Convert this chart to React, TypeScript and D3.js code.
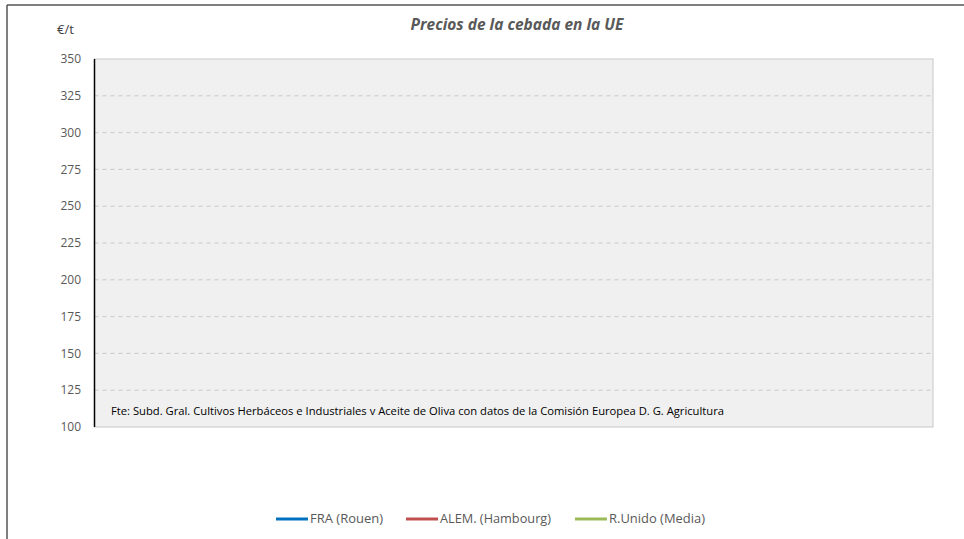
import React, { useEffect, useRef } from 'react';
import * as d3 from 'd3';

const title = 'Precios de la cebada en la UE';
const unitLabel = '€/t';
const sourceNote = 'Fte: Subd. Gral. Cultivos Herbáceos e Industriales v Aceite de Oliva con datos de la Comisión Europea D. G. Agricultura';
const yTicks = [100, 125, 150, 175, 200, 225, 250, 275, 300, 325, 350];
const seriesNames = ['FRA (Rouen)', 'ALEM. (Hambourg)', 'R.Unido (Media)'];
const seriesColors = ['#0070c0', '#c0504d', '#9bbb59'];
// no prices published for the period shown: the chart is empty
const weeks: string[] = [];
const fraValues: number[] = [];
const alemValues: number[] = [];
const ukValues: number[] = [];

const App = () => {
  const ref = useRef<SVGSVGElement>(null);

  useEffect(() => {
    const svg = d3.select(ref.current);
    svg.selectAll('*').remove();
    const W = 964, H = 539;
    const m = { top: 59, right: 31, bottom: 112, left: 94.5 };
    const font = "'Open Sans', 'DejaVu Sans', sans-serif";

    svg.attr('width', W).attr('height', H).style('display', 'block').style('background', '#fff');

    // outer frame (top & left visible)
    svg.append('line').attr('x1', 7).attr('x2', W).attr('y1', 5).attr('y2', 5)
      .attr('stroke', '#555').attr('stroke-width', 1.5);
    svg.append('line').attr('x1', 7).attr('x2', 7).attr('y1', 5).attr('y2', H)
      .attr('stroke', '#555').attr('stroke-width', 1.5);

    const x = d3.scalePoint<string>().domain(weeks).range([m.left, W - m.right]).padding(0.5);
    const y = d3.scaleLinear().domain([100, 350]).range([H - m.bottom, m.top]);

    svg.append('rect')
      .attr('x', m.left).attr('y', m.top)
      .attr('width', W - m.right - m.left).attr('height', H - m.bottom - m.top)
      .attr('fill', '#f0f0f0').attr('stroke', '#c8c8c8').attr('stroke-width', 1);

    svg.append('g').selectAll('line').data(yTicks.slice(1, -1)).enter().append('line')
      .attr('x1', m.left).attr('x2', W - m.right)
      .attr('y1', d => y(d)).attr('y2', d => y(d))
      .attr('stroke', '#c8c8c8').attr('stroke-dasharray', '4,4');

    svg.append('line').attr('x1', m.left).attr('x2', m.left)
      .attr('y1', m.top).attr('y2', H - m.bottom).attr('stroke', '#000').attr('stroke-width', 1.5);

    svg.append('g').selectAll('text').data(yTicks).enter().append('text')
      .attr('x', 81).attr('y', d => y(d)).attr('dy', '0.35em')
      .attr('text-anchor', 'end').style('font-family', font).style('font-size', '12px')
      .style('fill', '#595959').text(d => d);

    const values = [fraValues, alemValues, ukValues];
    const line = d3.line<number>().x((_, i) => x(weeks[i]) ?? 0).y(d => y(d));
    values.forEach((v, i) => {
      svg.append('path').datum(v).attr('d', line(v) ?? '').attr('fill', 'none')
        .attr('stroke', seriesColors[i]).attr('stroke-width', 2.5);
    });

    svg.append('text').attr('x', 57).attr('y', 34).text(unitLabel)
      .style('font-family', font).style('font-size', '13px').style('fill', '#404040');

    svg.append('text').attr('x', 517).attr('y', 30).attr('text-anchor', 'middle').text(title)
      .style('font-family', font).style('font-size', '15.5px').style('font-weight', 'bold')
      .style('font-style', 'italic').style('fill', '#595959');

    svg.append('text').attr('x', 111).attr('y', 415).text(sourceNote)
      .attr('textLength', 613).attr('lengthAdjust', 'spacingAndGlyphs')
      .style('font-family', font).style('font-size', '11px').style('fill', '#000');

    const legendX = [276, 406, 575];
    const legendW = [73, 111, 96];
    const lg = svg.append('g');
    seriesNames.forEach((name, i) => {
      lg.append('line').attr('x1', legendX[i]).attr('x2', legendX[i] + 32)
        .attr('y1', 519).attr('y2', 519).attr('stroke', seriesColors[i]).attr('stroke-width', 3);
      lg.append('text').attr('x', legendX[i] + 34).attr('y', 519).attr('dy', '0.35em').text(name)
        .attr('textLength', legendW[i]).attr('lengthAdjust', 'spacingAndGlyphs')
        .style('font-family', font).style('font-size', '12.5px').style('fill', '#595959');
    });
  }, []);

  return <svg ref={ref} style={{ position: 'absolute', left: 0, top: 0 }}></svg>;
};

export default App;
